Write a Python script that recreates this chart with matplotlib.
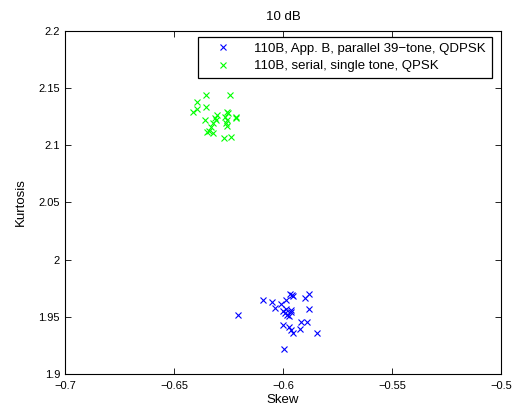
import matplotlib
matplotlib.use('Agg')
import matplotlib.pyplot as plt
import numpy as np

plt.rcParams['font.family'] = ['Liberation Sans', 'DejaVu Sans']

# 110B, App. B, parallel 39-tone, QDPSK
par_skew = [-0.6093, -0.6052, -0.6035, -0.6011, -0.5988, -0.5968, -0.5953, -0.5958,
            -0.5898, -0.5881, -0.5881, -0.6205, -0.5998, -0.5986, -0.5963, -0.5980,
            -0.5971, -0.6002, -0.5974, -0.5963, -0.5953, -0.5922, -0.5916, -0.5891,
            -0.5842, -0.5995, -0.5965, -0.5992]
par_kurt = [1.9649, 1.9626, 1.9579, 1.9608, 1.9649, 1.9696, 1.9684, 1.9690,
            1.9661, 1.9696, 1.9568, 1.9515, 1.9553, 1.9568, 1.9562, 1.9518,
            1.9504, 1.9431, 1.9408, 1.9387, 1.9358, 1.9393, 1.9457, 1.9451,
            1.9358, 1.9221, 1.9540, 1.9530]

# 110B, serial, single tone, QPSK
ser_skew = [-0.6411, -0.6396, -0.6396, -0.6352, -0.6355, -0.6243, -0.6358, -0.6304,
            -0.6307, -0.6320, -0.6329, -0.6338, -0.6347, -0.6320, -0.6271, -0.6239,
            -0.6258, -0.6254, -0.6264, -0.6258, -0.6261, -0.6258, -0.6216, -0.6216,
            -0.6310]
ser_kurt = [2.1293, 2.1380, 2.1313, 2.1438, 2.1337, 2.1438, 2.1220, 2.1264,
            2.1220, 2.1191, 2.1156, 2.1127, 2.1113, 2.1104, 2.1066, 2.1075,
            2.1293, 2.1278, 2.1249, 2.1220, 2.1191, 2.1168, 2.1249, 2.1235,
            2.1240]

fig = plt.figure(figsize=(5.15, 4.11), dpi=100)
ax = fig.add_axes([0.126, 0.090, 0.847, 0.835])

ax.plot(par_skew, par_kurt, 'x', color=(0, 0, 1), ms=5, mew=0.8,
        label='110B, App. B, parallel 39\u2212tone, QDPSK')
ax.plot(ser_skew, ser_kurt, 'x', color=(0, 1, 0), ms=5, mew=0.8,
        label='110B, serial, single tone, QPSK')

ax.set_xlim(-0.7, -0.5)
ax.set_ylim(1.9, 2.2)
ax.set_xticks([-0.7, -0.65, -0.6, -0.55, -0.5])
ax.set_xticklabels(['\u22120.7', '\u22120.65', '\u22120.6', '\u22120.55', '\u22120.5'])
ax.set_yticks([1.9, 1.95, 2.0, 2.05, 2.1, 2.15, 2.2])
ax.set_yticklabels(['1.9', '1.95', '2', '2.05', '2.1', '2.15', '2.2'])
ax.tick_params(direction='in', top=True, right=True, labelsize=8, length=4, width=0.6)
ax.tick_params(axis='x', pad=5)
for s in ax.spines.values():
    s.set_linewidth(0.8)

ax.set_xlabel('Skew', fontsize=9.5, labelpad=2)
ax.set_ylabel('Kurtosis', fontsize=9.5, labelpad=8)
ax.set_title('10 dB', fontsize=9.5, pad=8)

# legend box spans roughly x 200..492, y 37..75 px in the reference
leg = ax.legend(loc='upper right', bbox_to_anchor=(0.979, 0.983), fontsize=9.5,
                fancybox=False, framealpha=1, edgecolor='black', borderpad=0.45,
                handlelength=2.8, handletextpad=1.0, labelspacing=0.4,
                borderaxespad=0.0)
leg.get_frame().set_linewidth(0.9)

fig.savefig('out.png', dpi=100)
